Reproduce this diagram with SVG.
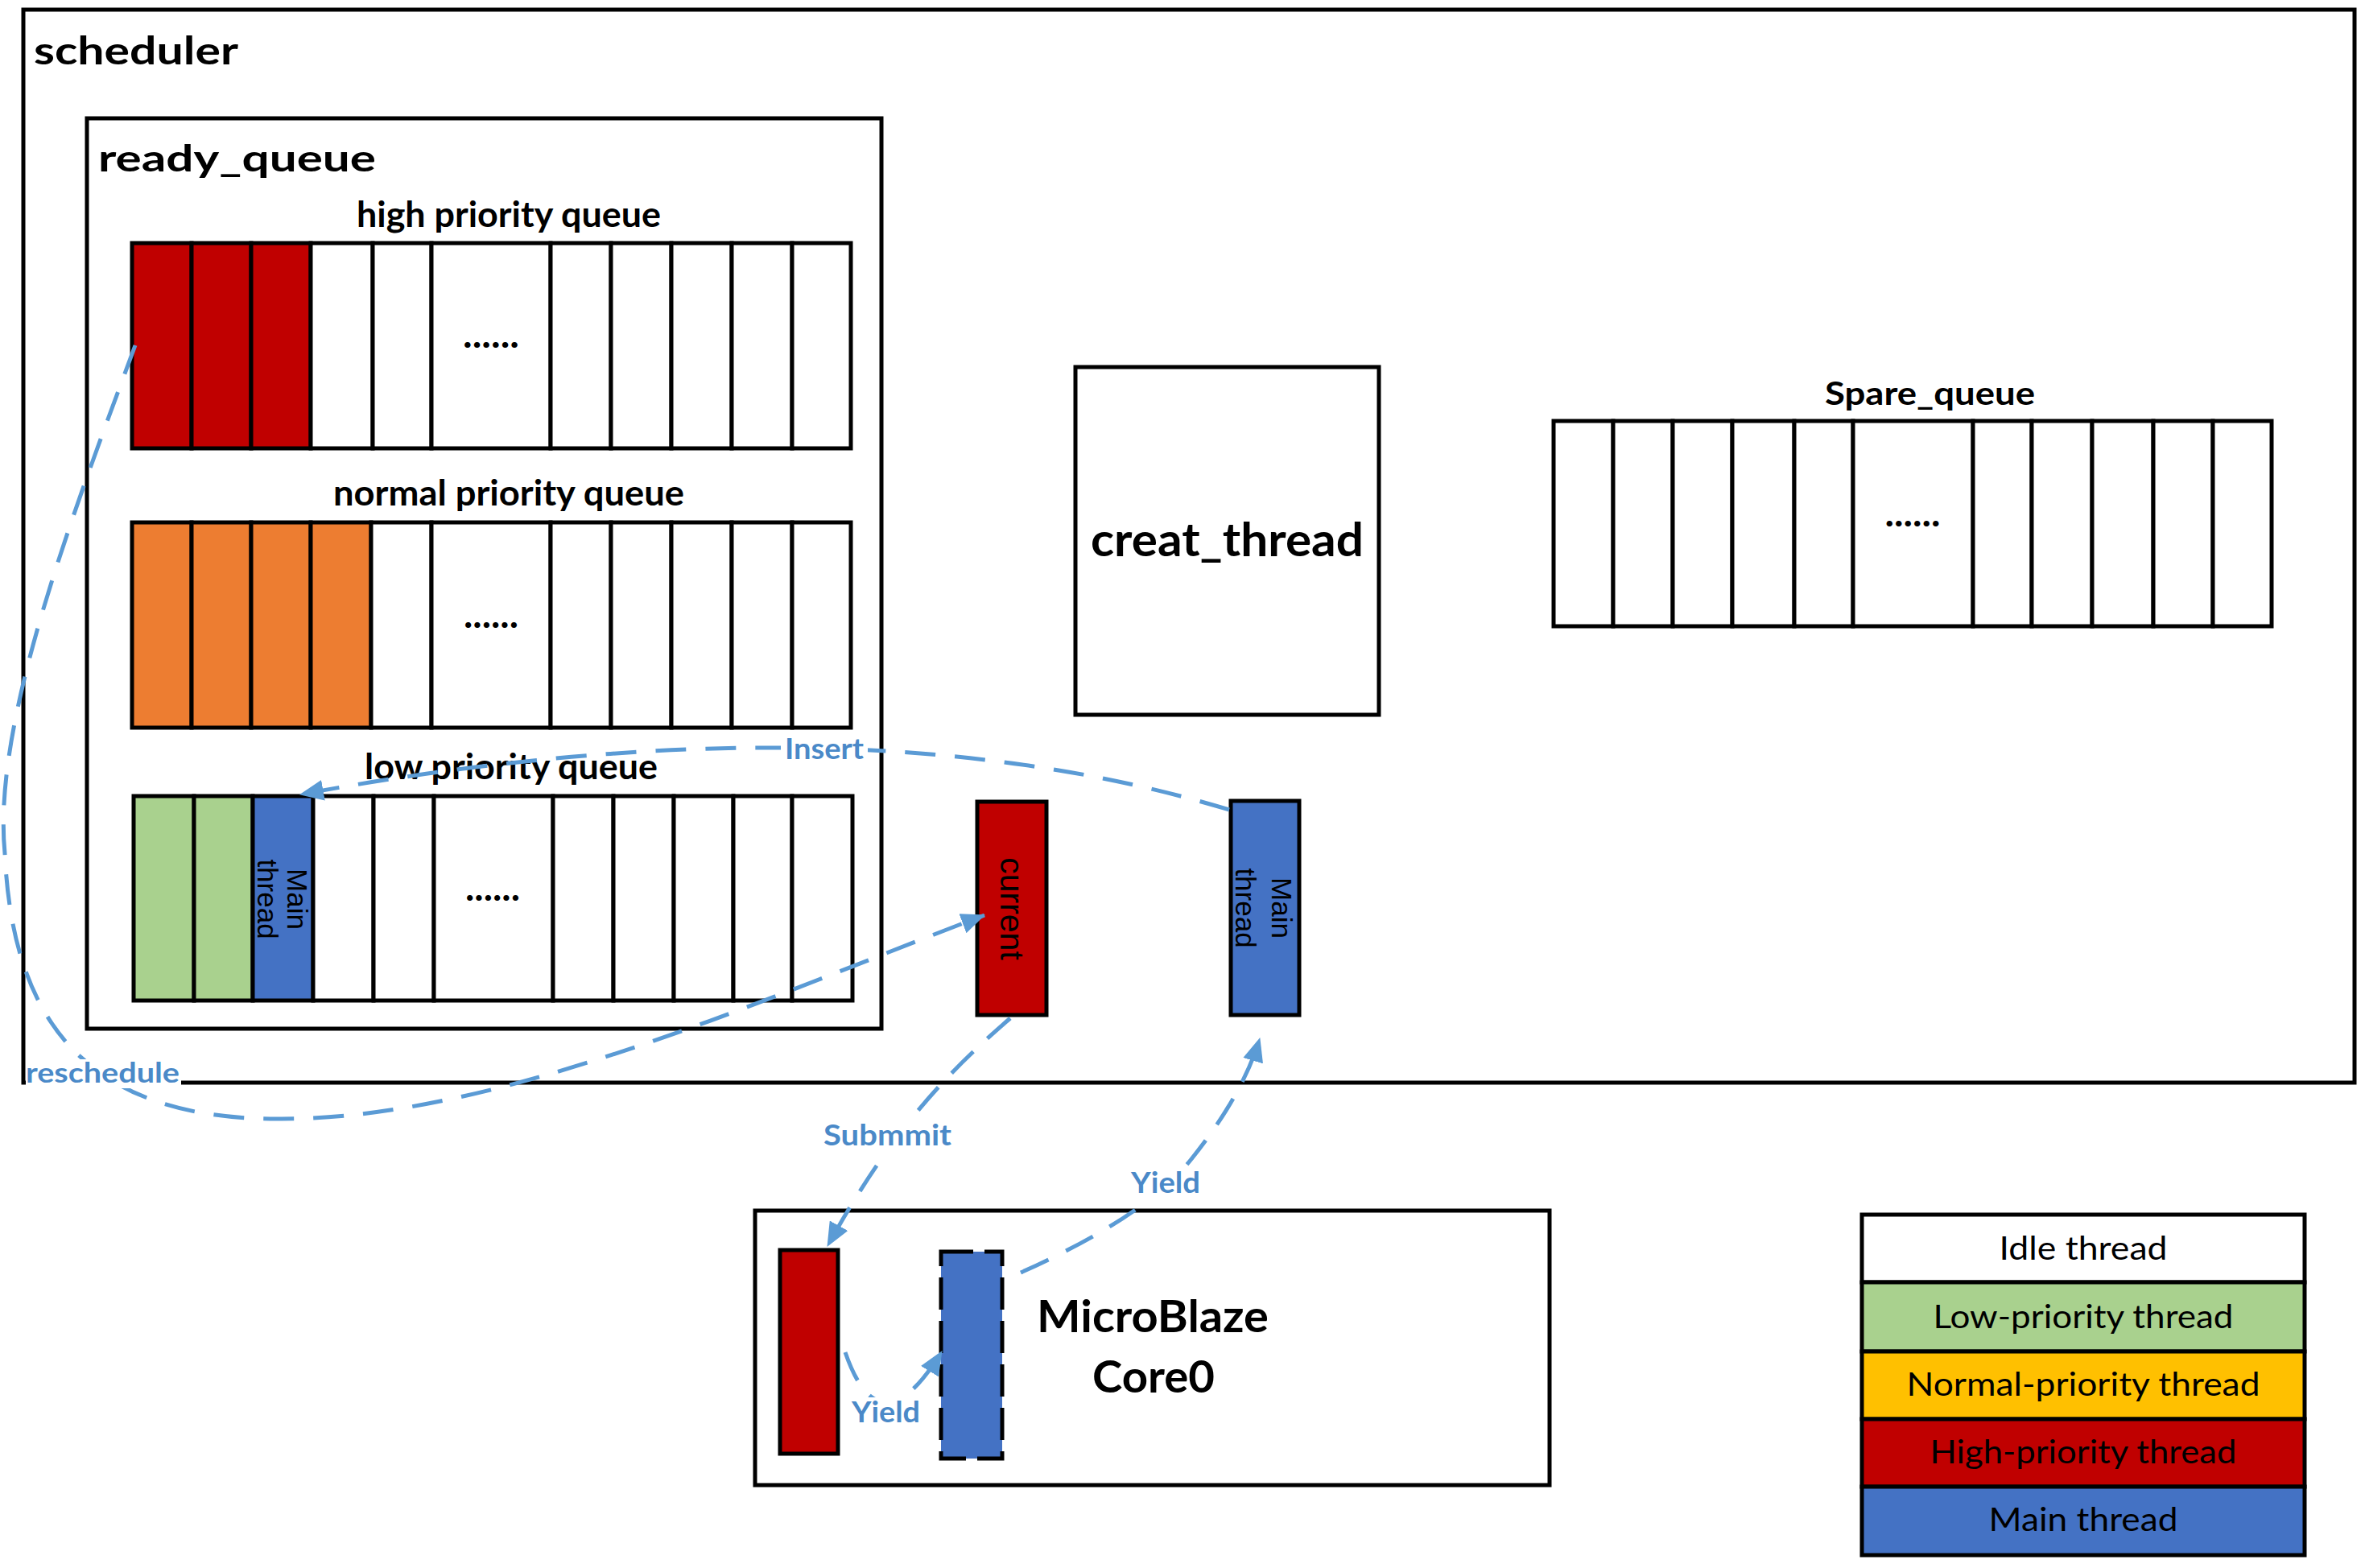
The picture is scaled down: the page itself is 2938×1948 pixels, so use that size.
<svg xmlns="http://www.w3.org/2000/svg" width="2938" height="1948" viewBox="0 0 2938 1948">
<defs>
<style>
.box{fill:#fff;stroke:#000;stroke-width:5}
.c{stroke:#000;stroke-width:5}
.idle{fill:#fff}
.red{fill:#C00000}
.orange{fill:#ED7D31}
.green{fill:#A9D18E}
.blue{fill:#4472C4}
.yellow{fill:#FFC000}
.t{font-family:Lato,"Open Sans","Liberation Sans",sans-serif;fill:#000}
.b{font-weight:bold}
.lab{font-family:Lato,"Open Sans","Liberation Sans",sans-serif;font-weight:bold;fill:#4A89C8}
.rot{font-family:"Liberation Sans",Arial,sans-serif;fill:#000}
.conn{fill:none;stroke:#5B9BD5;stroke-width:5;stroke-dasharray:38 24}
.bg{fill:#fff}
.dots{font-family:Lato,"Liberation Sans",sans-serif;font-weight:bold;font-size:46px;fill:#000}
</style>
<marker id="ah" markerUnits="userSpaceOnUse" markerWidth="30" markerHeight="26" viewBox="0 0 28 24" refX="27" refY="12" orient="auto"><path d="M0,0 L28,12 L0,24 z" fill="#5B9BD5"/></marker>
</defs>
<rect width="2938" height="1948" fill="#fff"/>

<g id="scheduler">
<rect class="box" x="29" y="12" width="2896" height="1333"/>
<text class="t b" x="42" y="80" font-size="48" textLength="254" lengthAdjust="spacingAndGlyphs">scheduler</text>
</g>

<g id="ready_queue">
<rect class="box" x="108" y="147" width="987" height="1131"/>
<text class="t b" x="122" y="213" font-size="46" textLength="345" lengthAdjust="spacingAndGlyphs">ready_queue</text>
</g>

<g id="high_priority_queue">
<text class="t b" x="443" y="282" font-size="43" textLength="378" lengthAdjust="spacingAndGlyphs">high priority queue</text>
<rect class="c red" x="164" y="302" width="74" height="255"/>
<rect class="c red" x="238" y="302" width="74" height="255"/>
<rect class="c red" x="312" y="302" width="74" height="255"/>
<rect class="c idle" x="386" y="302" width="77" height="255"/>
<rect class="c idle" x="463" y="302" width="73" height="255"/>
<rect class="c idle" x="536" y="302" width="148" height="255"/>
<rect class="c idle" x="684" y="302" width="75" height="255"/>
<rect class="c idle" x="759" y="302" width="75" height="255"/>
<rect class="c idle" x="834" y="302" width="75" height="255"/>
<rect class="c idle" x="909" y="302" width="75" height="255"/>
<rect class="c idle" x="984" y="302" width="73" height="255"/>
<text class="dots" x="610" y="432" text-anchor="middle" textLength="70" lengthAdjust="spacingAndGlyphs">......</text>
</g>

<g id="normal_priority_queue">
<text class="t b" x="414" y="628" font-size="43" textLength="436" lengthAdjust="spacingAndGlyphs">normal priority queue</text>
<rect class="c orange" x="164" y="649" width="74" height="255"/>
<rect class="c orange" x="238" y="649" width="74" height="255"/>
<rect class="c orange" x="312" y="649" width="74" height="255"/>
<rect class="c orange" x="386" y="649" width="75" height="255"/>
<rect class="c idle" x="461" y="649" width="75" height="255"/>
<rect class="c idle" x="536" y="649" width="148" height="255"/>
<rect class="c idle" x="684" y="649" width="75" height="255"/>
<rect class="c idle" x="759" y="649" width="75" height="255"/>
<rect class="c idle" x="834" y="649" width="75" height="255"/>
<rect class="c idle" x="909" y="649" width="75" height="255"/>
<rect class="c idle" x="984" y="649" width="73" height="255"/>
<text class="dots" x="610" y="780" text-anchor="middle" textLength="68" lengthAdjust="spacingAndGlyphs">......</text>
</g>

<g id="low_priority_queue">
<text class="t b" x="453" y="968" font-size="43" textLength="364" lengthAdjust="spacingAndGlyphs">low priority queue</text>
<rect class="c green" x="166" y="989" width="75" height="254"/>
<rect class="c green" x="241" y="989" width="73" height="254"/>
<rect class="c blue" x="314" y="989" width="75" height="254"/>
<rect class="c idle" x="389" y="989" width="75" height="254"/>
<rect class="c idle" x="464" y="989" width="75" height="254"/>
<rect class="c idle" x="539" y="989" width="148" height="254"/>
<rect class="c idle" x="687" y="989" width="75" height="254"/>
<rect class="c idle" x="762" y="989" width="75" height="254"/>
<rect class="c idle" x="837" y="989" width="74" height="254"/>
<rect class="c idle" x="911" y="989" width="73" height="254"/>
<rect class="c idle" x="984" y="989" width="75" height="254"/>
<text class="dots" x="612" y="1119" text-anchor="middle" textLength="68" lengthAdjust="spacingAndGlyphs">......</text>
<text class="rot" transform="translate(357,1117) rotate(90)" text-anchor="middle" font-size="35">Main</text>
<text class="rot" transform="translate(320,1117) rotate(90)" text-anchor="middle" font-size="35">thread</text>
</g>

<g id="current">
<rect class="c red" x="1214" y="996" width="86" height="265"/>
<text class="rot" transform="translate(1243,1129) rotate(90)" text-anchor="middle" font-size="41">current</text>
</g>

<g id="main_thread">
<rect class="c blue" x="1529" y="995" width="85" height="266"/>
<text class="rot" transform="translate(1580,1128) rotate(90)" text-anchor="middle" font-size="35">Main</text>
<text class="rot" transform="translate(1535,1128) rotate(90)" text-anchor="middle" font-size="35">thread</text>
</g>

<g id="creat_thread">
<rect class="box" x="1336" y="456" width="377" height="432"/>
<text class="t b" x="1355" y="691" font-size="58" textLength="339" lengthAdjust="spacingAndGlyphs">creat_thread</text>
</g>

<g id="spare_queue">
<text class="t b" x="2267" y="503" font-size="41" textLength="261" lengthAdjust="spacingAndGlyphs">Spare_queue</text>
<rect class="c idle" x="1930" y="523" width="74" height="255"/>
<rect class="c idle" x="2004" y="523" width="74" height="255"/>
<rect class="c idle" x="2078" y="523" width="74" height="255"/>
<rect class="c idle" x="2152" y="523" width="77" height="255"/>
<rect class="c idle" x="2229" y="523" width="73" height="255"/>
<rect class="c idle" x="2302" y="523" width="149" height="255"/>
<rect class="c idle" x="2451" y="523" width="73" height="255"/>
<rect class="c idle" x="2524" y="523" width="75" height="255"/>
<rect class="c idle" x="2599" y="523" width="76" height="255"/>
<rect class="c idle" x="2675" y="523" width="74" height="255"/>
<rect class="c idle" x="2749" y="523" width="73" height="255"/>
<text class="dots" x="2376" y="654" text-anchor="middle" textLength="69" lengthAdjust="spacingAndGlyphs">......</text>
</g>

<g id="microblaze_core0">
<rect class="box" x="938" y="1504" width="987" height="341"/>
<rect class="c red" x="969" y="1553" width="72" height="253"/>
<rect class="blue" x="1169" y="1555" width="76" height="257" stroke="#000" stroke-width="5" stroke-dasharray="40 14"/>
<text class="t b" x="1288" y="1655" font-size="56" textLength="288" lengthAdjust="spacingAndGlyphs">MicroBlaze</text>
<text class="t b" x="1357" y="1730" font-size="56" textLength="152" lengthAdjust="spacingAndGlyphs">Core0</text>
</g>

<g id="legend">
<rect class="c idle" x="2313" y="1509" width="550" height="84"/>
<rect class="c green" x="2313" y="1593" width="550" height="86"/>
<rect class="c yellow" x="2313" y="1679" width="550" height="84"/>
<rect class="c red" x="2313" y="1763" width="550" height="84"/>
<rect class="c blue" x="2313" y="1847" width="550" height="85"/>
<text class="t" x="2588" y="1565" font-size="41" text-anchor="middle" textLength="209" lengthAdjust="spacingAndGlyphs">Idle thread</text>
<text class="t" x="2588" y="1650" font-size="41" text-anchor="middle" textLength="373" lengthAdjust="spacingAndGlyphs">Low-priority thread</text>
<text class="t" x="2588" y="1734" font-size="41" text-anchor="middle" textLength="439" lengthAdjust="spacingAndGlyphs">Normal-priority thread</text>
<text class="t" x="2588" y="1818" font-size="41" text-anchor="middle" textLength="381" lengthAdjust="spacingAndGlyphs">High-priority thread</text>
<text class="t" x="2588" y="1902" font-size="41" text-anchor="middle" textLength="235" lengthAdjust="spacingAndGlyphs">Main thread</text>
</g>

<g id="connectors">
<path class="conn" d="M168,429 C90,640 -10,900 6,1060 C15,1260 100,1392 350,1390 C620,1390 950,1240 1223,1137" marker-end="url(#ah)"/>
<path class="conn" d="M1527,1006 Q1050,862 373,987" marker-end="url(#ah)"/>
<path class="conn" d="M1255,1265 C1180,1330 1110,1400 1028,1548" marker-end="url(#ah)"/>
<path class="conn" d="M1268,1581 C1370,1535 1440,1490 1480,1440 C1520,1390 1550,1340 1565,1290" marker-end="url(#ah)"/>
<path class="conn" d="M1050,1680 Q1093,1805 1170,1679" marker-end="url(#ah)"/>
<rect class="bg" x="32" y="1316" width="193" height="36"/>
<text class="lab" x="32" y="1345" font-size="34" textLength="191" lengthAdjust="spacingAndGlyphs">reschedule</text>
<rect class="bg" x="970" y="912" width="108" height="38"/>
<text class="lab" x="975" y="943" font-size="37" textLength="98" lengthAdjust="spacingAndGlyphs">Insert</text>
<rect class="bg" x="1018" y="1390" width="170" height="44"/>
<text class="lab" x="1023" y="1423" font-size="37" textLength="159" lengthAdjust="spacingAndGlyphs">Submmit</text>
<rect class="bg" x="1400" y="1450" width="96" height="42"/>
<text class="lab" x="1405" y="1482" font-size="37" textLength="86" lengthAdjust="spacingAndGlyphs">Yield</text>
<rect class="bg" x="1054" y="1736" width="94" height="40"/>
<text class="lab" x="1058" y="1767" font-size="37" textLength="85" lengthAdjust="spacingAndGlyphs">Yield</text>
</g>
</svg>
